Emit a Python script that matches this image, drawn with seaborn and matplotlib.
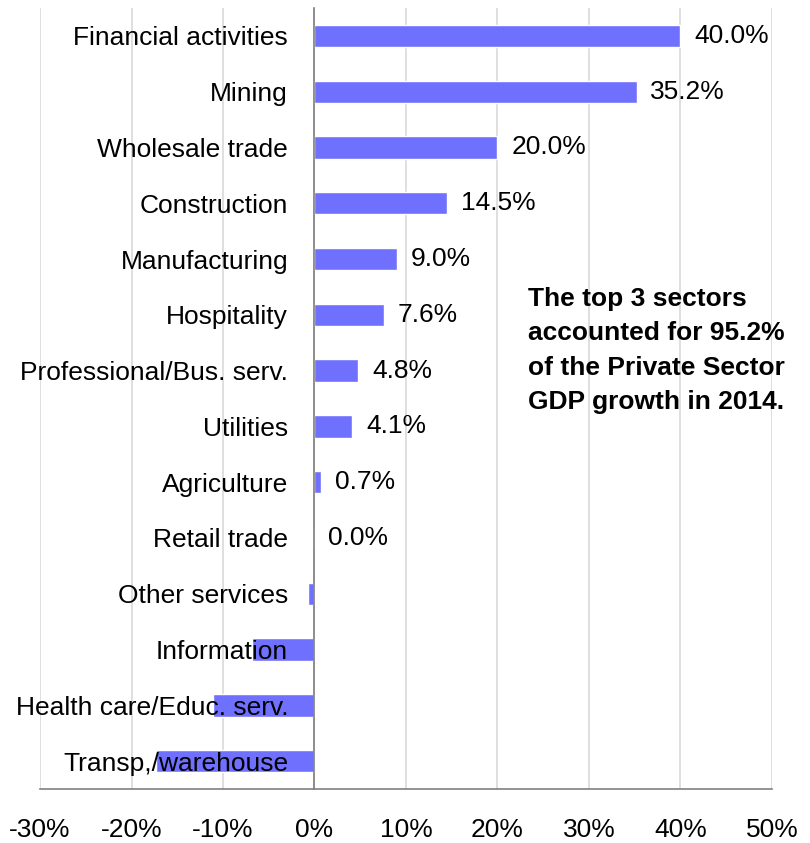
"""Private sector GDP growth contribution by sector, 2014."""

import matplotlib.pyplot as plt
import matplotlib.ticker as mticker
import seaborn as sns

# Data
sectors = ['Financial activities', 'Mining', 'Wholesale trade', 'Construction',
           'Manufacturing', 'Hospitality', 'Professional/Bus. serv.', 'Utilities',
           'Agriculture', 'Retail trade', 'Other services', 'Information',
           'Health care/Educ. serv.', 'Transp,/warehouse']
shares = [40.0, 35.2, 20.0, 14.5, 9.0, 7.6, 4.8, 4.1, 0.7, 0.0, -0.7, -6.8, -11.1, -17.3]
x_ticks = [-30, -20, -10, 0, 10, 20, 30, 40, 50]

note = ('The top 3 sectors\naccounted for 95.2%\n'
        'of the Private Sector\nGDP growth in 2014.')

sns.set_style('white')
plt.rcParams['font.family'] = ['Liberation Sans', 'DejaVu Sans']
plt.rcParams['text.color'] = 'black'
plt.rcParams['xtick.labelcolor'] = 'black'
plt.rcParams['ytick.labelcolor'] = 'black'

fig = plt.figure(figsize=(8.1, 8.43), dpi=100)
ax = fig.add_axes([0.0494, 0.064, 0.9036, 0.9265])

sns.barplot(x=shares, y=sectors, orient='h', color='#7070ff',
            saturation=1, width=0.4, ax=ax, zorder=2)

# Value labels only for the non-negative sectors
labels = [f'{v:.1f}%' if v >= 0 else '' for v in shares]
ax.bar_label(ax.containers[0], labels=labels, padding=10, fontsize=19)

# Light vertical gridlines behind the bars
for t in x_ticks:
    ax.axvline(t, color='#d9d9d9', linewidth=1.2, zorder=0)

ax.set_xlim(-30, 50)
ax.set_ylim(len(sectors) - 0.5, -0.5)
ax.set_xticks(x_ticks)
ax.xaxis.set_major_formatter(mticker.FuncFormatter(lambda v, _: f'{v:.0f}%'))
ax.tick_params(axis='x', labelsize=19, length=8, width=1.2, color='#808080',
               direction='out', pad=13)

# Category axis sits on the zero line, ticks between categories,
# labels drawn over the negative bars
ax.spines['left'].set_position(('data', 0))
ax.yaxis.set_minor_locator(mticker.FixedLocator([i - 0.5 for i in range(len(sectors) + 1)]))
ax.tick_params(axis='y', which='major', length=0, labelsize=19, pad=19)
ax.tick_params(axis='y', which='minor', length=8, width=1.2, color='#808080',
               direction='out')
ax.yaxis.set_zorder(3)
ax.set_xlabel('')
ax.set_ylabel('')

for side in ['top', 'right']:
    ax.spines[side].set_visible(False)
for side in ['left', 'bottom']:
    ax.spines[side].set_color('#808080')
    ax.spines[side].set_linewidth(1.2)
    ax.spines[side].set_zorder(3)

ax.text(23.3, 4.5, note, fontsize=19, fontweight='bold', va='top', ha='left',
        linespacing=1.55, zorder=4)

fig.savefig('out.png', dpi=100)
